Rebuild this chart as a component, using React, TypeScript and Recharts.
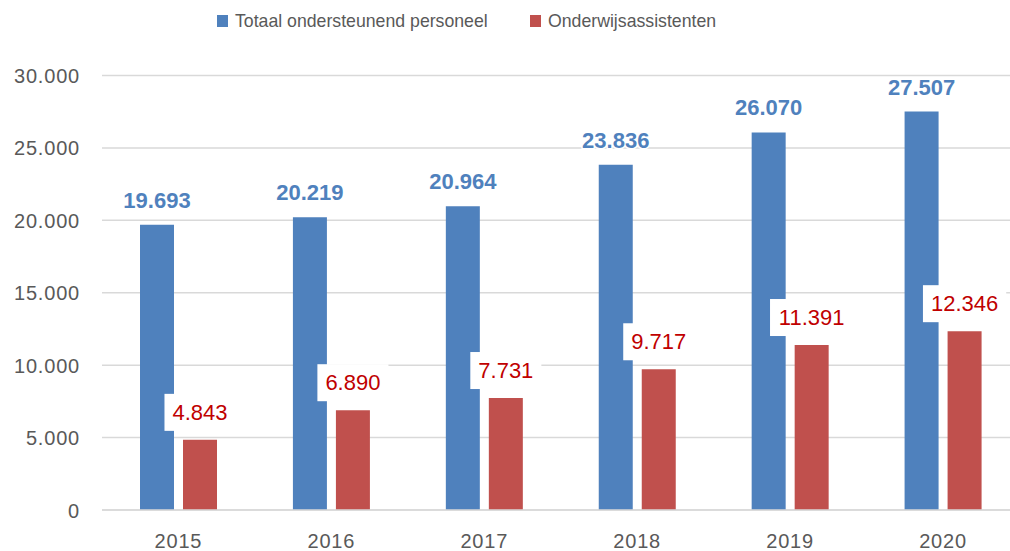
import { Bar, BarChart, CartesianGrid, LabelList, XAxis, YAxis } from "recharts"

const years = ["2015", "2016", "2017", "2018", "2019", "2020"]
const totaalPersoneel = [19693, 20219, 20964, 23836, 26070, 27507]
const onderwijsassistenten = [4843, 6890, 7731, 9717, 11391, 12346]
const yTicks = [0, 5000, 10000, 15000, 20000, 25000, 30000]

const data = years.map((year, i) => ({
  year,
  totaal: totaalPersoneel[i],
  assistenten: onderwijsassistenten[i],
}))

const FONT = "'Liberation Sans', Arial, sans-serif"
const BLUE = "#4F81BD"
const RED = "#C0504D"
const GREY_TEXT = "#595959"
const GRID = "#D9D9D9"

// dutch thousands separator
const formatNl = (v: number) => String(v).replace(/\B(?=(\d{3})+(?!\d))/g, ".")

const textWidth = (s: string, size: number) =>
  s.split("").reduce((w, ch) => w + (ch === "." ? 0.278 : 0.556) * size, 0)

function YTick(props: any) {
  const { x, y, payload } = props
  return (
    <text x={80} y={Number(y) + 7.5} textAnchor="end" fontFamily={FONT} fontSize={20} letterSpacing={0.8} fill={GREY_TEXT}>
      {formatNl(payload.value)}
    </text>
  )
}

function XTick(props: any) {
  const { x, payload } = props
  return (
    <text x={x} y={548} textAnchor="middle" fontFamily={FONT} fontSize={20} letterSpacing={0.8} fill={GREY_TEXT}>
      {payload.value}
    </text>
  )
}

function TotaalLabel(props: any) {
  const { x, y, width, value } = props
  const cx = Number(x) + Number(width) / 2
  return (
    <text
      x={cx}
      y={Number(y) - 17}
      textAnchor="middle"
      fontFamily={FONT}
      fontSize={22}
      fontWeight={700}
      fill={BLUE}
      stroke="#fff"
      strokeWidth={3}
      strokeLinejoin="round"
      paintOrder="stroke"
    >
      {formatNl(Number(value))}
    </text>
  )
}

function AssistentenLabel(props: any) {
  const { x, y, width, value } = props
  const cx = Number(x) + Number(width) / 2
  const top = Number(y)
  const label = formatNl(Number(value))
  const boxW = textWidth(label, 22) + 16
  return (
    <g>
      <rect x={cx - boxW / 2} y={top - 46} width={boxW} height={37} fill="#fff" />
      <text x={cx} y={top - 20} textAnchor="middle" fontFamily={FONT} fontSize={22} fill="#C00000">
        {label}
      </text>
    </g>
  )
}

function LegendBox() {
  const item = (color: string, label: string, left: number) => (
    <div style={{ position: "absolute", left, top: 0, display: "flex", alignItems: "flex-start" }}>
      <div style={{ width: 11, height: 12, background: color, marginTop: 3, marginRight: 7 }} />
      <span style={{ fontFamily: FONT, fontSize: 17.7, lineHeight: "18px", color: GREY_TEXT, whiteSpace: "nowrap" }}>{label}</span>
    </div>
  )
  return (
    <div style={{ position: "absolute", top: 12, left: 0, width: 1010, height: 20 }}>
      {item(BLUE, "Totaal ondersteunend personeel", 217)}
      {item(RED, "Onderwijsassistenten", 530)}
    </div>
  )
}

export default function App() {
  return (
    <div style={{ position: "absolute", top: 0, left: 0, width: 1010, height: 551, overflow: "hidden", background: "#fff" }}>
      <LegendBox />
      <BarChart
        width={1030}
        height={551}
        data={data}
        margin={{ top: 75.5, right: 10.5, bottom: 11, left: 0 }}
        barGap={9}
      >
        <CartesianGrid vertical={false} stroke={GRID} strokeWidth={1.5} />
        <XAxis
          dataKey="year"
          height={30}
          tickLine={false}
          tickSize={0}
          axisLine={{ stroke: GRID, strokeWidth: 1.5 }}
          tick={<XTick />}
          interval={0}
        />
        <YAxis
          width={102}
          domain={[0, 30000]}
          ticks={yTicks}
          tickLine={false}
          axisLine={false}
          tick={<YTick />}
          interval={0}
        />
        <Bar dataKey="totaal" fill={BLUE} barSize={34} isAnimationActive={false}>
          <LabelList dataKey="totaal" content={<TotaalLabel />} />
        </Bar>
        <Bar dataKey="assistenten" fill={RED} barSize={34} isAnimationActive={false}>
          <LabelList dataKey="assistenten" content={<AssistentenLabel />} />
        </Bar>
      </BarChart>
    </div>
  )
}
